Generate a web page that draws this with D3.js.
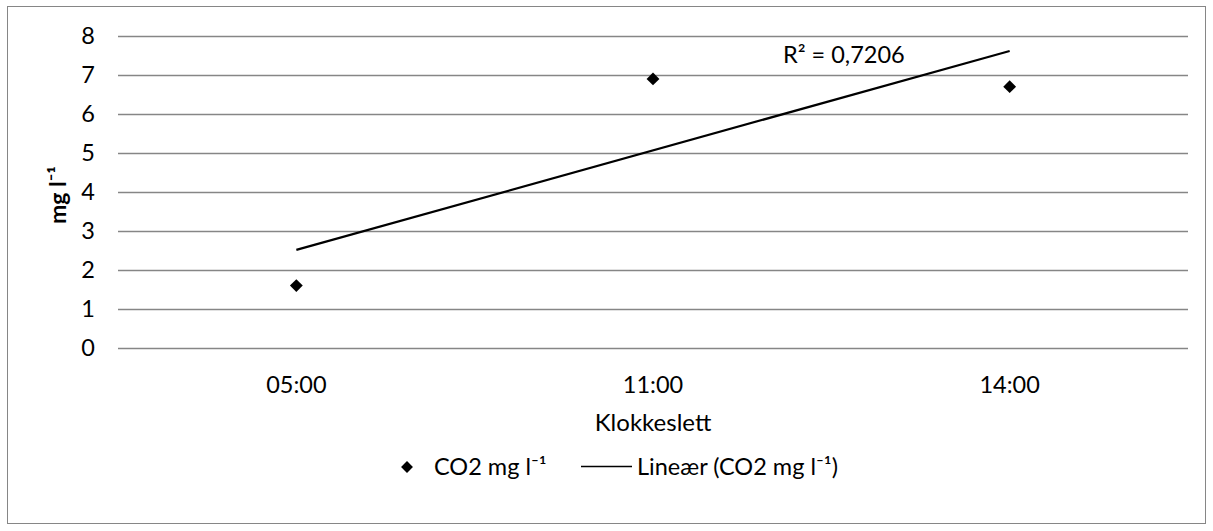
<!DOCTYPE html>
<html>
<head>
<meta charset="utf-8">
<script src="https://cdn.jsdelivr.net/npm/d3@7"></script>
<style>
  html, body { margin: 0; padding: 0; background: #fff; }
  svg text { font-family: Lato, "Open Sans", "Liberation Sans", sans-serif; fill: #000; }
</style>
</head>
<body>
<svg id="chart" width="1213" height="531"></svg>
<script>
// CO2 concentration at three times of day
const categories = ["05:00", "11:00", "14:00"];
const co2Values = [1.6, 6.9, 6.7];
const yTicks = [0, 1, 2, 3, 4, 5, 6, 7, 8];
const seriesName = "CO2 mg l\u207B\u00B9";
const trendName = "Line\u00E6r (CO2 mg l\u207B\u00B9)";
const xTitle = "Klokkeslett";
const yTitle = "mg l\u207B\u00B9";
const r2Label = "R\u00B2 = 0,7206";

const svg = d3.select("#chart");
const W = 1213, H = 531;
const plot = { left: 118, right: 1188, top: 36, bottom: 348 };
const FONT = "Lato, 'Open Sans', sans-serif";
const FS = 23.5;

// outer frame
svg.append("rect")
  .attr("x", 7.5).attr("y", 6.5)
  .attr("width", W - 15).attr("height", H - 14)
  .attr("fill", "#fff").attr("stroke", "#868686").attr("stroke-width", 1);

const x = d3.scaleBand().domain(categories).range([plot.left, plot.right]).padding(0);
const y = d3.scaleLinear().domain([0, 8]).range([plot.bottom, plot.top]);
const cx = c => x(c) + x.bandwidth() / 2;

// horizontal gridlines
svg.append("g").selectAll("line").data(yTicks).join("line")
  .attr("x1", plot.left).attr("x2", plot.right)
  .attr("y1", d => Math.round(y(d)) + 0.5).attr("y2", d => Math.round(y(d)) + 0.5)
  .attr("stroke", "#868686").attr("stroke-width", 1.3);

// y axis labels
const yAxis = d3.axisLeft(y).tickValues(yTicks).tickSize(0).tickPadding(23);
const gy = svg.append("g").attr("transform", `translate(${plot.left},0)`).call(yAxis);
gy.select(".domain").remove();
gy.selectAll("text").attr("font-size", FS).attr("font-family", FONT);

// x axis labels
const xAxis = d3.axisBottom(x).tickSize(0).tickPadding(28);
const gx = svg.append("g").attr("transform", `translate(0,${plot.bottom})`).call(xAxis);
gx.select(".domain").remove();
gx.selectAll("text").attr("font-size", FS).attr("font-family", FONT);

// axis titles
svg.append("text").attr("x", (plot.left + plot.right) / 2).attr("y", 431)
  .attr("text-anchor", "middle").attr("font-size", 24).text(xTitle);
svg.append("text")
  .attr("transform", `translate(66,${(plot.top + plot.bottom) / 2 + 3}) rotate(-90)`)
  .attr("text-anchor", "middle").attr("font-size", 23).attr("font-weight", "bold")
  .text(yTitle);

// least-squares linear trendline over category index 1..n
const n = co2Values.length;
const xs = co2Values.map((_, i) => i + 1);
const mx = d3.mean(xs), my = d3.mean(co2Values);
const slope = d3.sum(xs, (xi, i) => (xi - mx) * (co2Values[i] - my)) / d3.sum(xs, xi => (xi - mx) ** 2);
const intercept = my - slope * mx;
const fit = xi => intercept + slope * xi;

const trendPts = [[cx(categories[0]), y(fit(1))], [cx(categories[n - 1]), y(fit(n))]];
svg.append("path").attr("d", d3.line()(trendPts))
  .attr("stroke", "#000").attr("stroke-width", 2.2).attr("fill", "none");

// R² label
svg.append("text").attr("x", 783).attr("y", 63).attr("font-size", FS).text(r2Label);

// data markers
const diamond = d3.symbol().type(d3.symbolDiamond2).size(105);
svg.append("g").selectAll("path").data(categories).join("path")
  .attr("d", diamond)
  .attr("transform", (c, i) => `translate(${cx(c)},${y(co2Values[i])})`)
  .attr("fill", "#000");

// legend
const lg = svg.append("g");
lg.append("path").attr("d", d3.symbol().type(d3.symbolDiamond2).size(90))
  .attr("transform", "translate(407,467)").attr("fill", "#000");
lg.append("text").attr("x", 434).attr("y", 475).attr("font-size", FS).text(seriesName);
lg.append("line").attr("x1", 581).attr("x2", 632).attr("y1", 466.5).attr("y2", 466.5)
  .attr("stroke", "#000").attr("stroke-width", 1.5);
lg.append("text").attr("x", 637).attr("y", 475).attr("font-size", FS).text(trendName);
</script>
</body>
</html>
